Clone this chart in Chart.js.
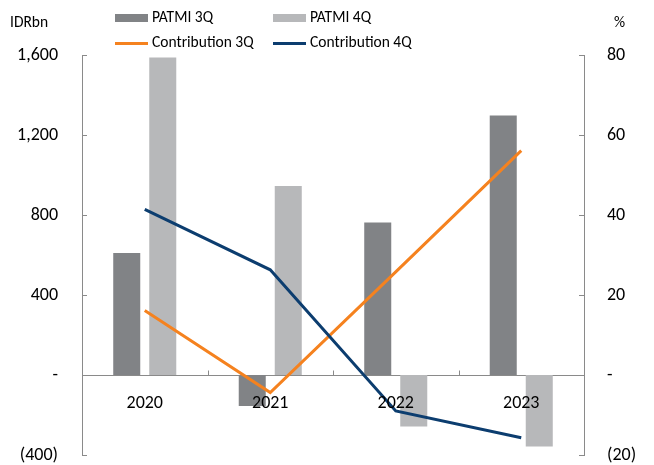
<!DOCTYPE html>
<html>
<head>
<meta charset="utf-8">
<script src="https://cdn.jsdelivr.net/npm/chart.js@4/dist/chart.umd.min.js"></script>
<style>
  html, body { margin: 0; padding: 0; background: #fff; }
  #wrap { position: relative; width: 654px; height: 465px; font-family: Carlito, Lato, sans-serif; color: #000; }
  #wrap canvas { position: absolute; left: 0; top: 0; }
  .lbl { position: absolute; font-size: 15.5px; line-height: 1; white-space: nowrap; }
  .key { position: absolute; }
</style>
</head>
<body>
<div id="wrap">
  <canvas id="c" width="654" height="465"></canvas>
  <div id="legend"></div>
  <span class="lbl" style="left:10px; top:14px;">IDRbn</span>
  <span class="lbl" style="left:614px; top:14px;">%</span>
</div>
<script>
// Values
const categories = ["2020", "2021", "2022", "2023"];
const patmi3Q = [610, -155, 763, 1297];      // IDRbn
const patmi4Q = [1588, 945, -258, -358];     // IDRbn
const contrib3Q = [16.1, -4.4, 25.8, 56.1];  // %
const contrib4Q = [41.4, 26.3, -9.0, -15.7]; // %
const leftTicks = [-400, 0, 400, 800, 1200, 1600];
const rightTicks = [-20, 0, 20, 40, 60, 80];

const DARK_GREY = "#818386";
const LIGHT_GREY = "#b7b8ba";
const ORANGE = "#f5821f";
const NAVY = "#0c3d6f";
const AXIS = "#8a8a8a";
const FONT = "Carlito, Lato, sans-serif";

// Excel-style numbers: "-" for zero, brackets for negatives
function fmt(v) {
    if (v === 0) return "-";
    const s = Math.abs(v).toLocaleString("en-US");
    return v < 0 ? "(" + s + ")" : s;
}

// Small tick marks pointing into the plot, like the original
const innerTicks = {
    id: "innerTicks",
    afterDatasetsDraw(chart) {
        const { ctx, chartArea, scales } = chart;
        ctx.save();
        ctx.strokeStyle = AXIS;
        ctx.lineWidth = 1;
        ctx.beginPath();
        scales.y.ticks.forEach((t) => {
            const py = Math.round(scales.y.getPixelForValue(t.value)) + 0.5;
            ctx.moveTo(chartArea.left, py);
            ctx.lineTo(chartArea.left + 5, py);
        });
        scales.y1.ticks.forEach((t) => {
            const py = Math.round(scales.y1.getPixelForValue(t.value)) + 0.5;
            ctx.moveTo(chartArea.right, py);
            ctx.lineTo(chartArea.right - 5, py);
        });
        const zero = Math.round(scales.y.getPixelForValue(0)) + 0.5;
        for (let i = 1; i < categories.length; i++) {
            const px = Math.round((scales.x.getPixelForValue(i - 1) + scales.x.getPixelForValue(i)) / 2) + 0.5;
            ctx.moveTo(px, zero);
            ctx.lineTo(px, zero - 5);
        }
        ctx.stroke();
        ctx.restore();
    },
};

const barSets = [
    { type: "bar", label: "PATMI 3Q", data: patmi3Q, yAxisID: "y", backgroundColor: DARK_GREY, borderWidth: 0, barPercentage: 0.75, categoryPercentage: 0.574, order: 2 },
    { type: "bar", label: "PATMI 4Q", data: patmi4Q, yAxisID: "y", backgroundColor: LIGHT_GREY, borderWidth: 0, barPercentage: 0.75, categoryPercentage: 0.574, order: 3 },
];
const lineSets = [
    { type: "line", label: "Contribution 3Q", data: contrib3Q, yAxisID: "y1", borderColor: ORANGE, borderWidth: 3, pointRadius: 0, tension: 0, order: 1 },
    { type: "line", label: "Contribution 4Q", data: contrib4Q, yAxisID: "y1", borderColor: NAVY, borderWidth: 3, pointRadius: 0, tension: 0, order: 0 },
];

// HTML legend laid out in two aligned columns
const legendItems = [
    { text: "PATMI 3Q", color: DARK_GREY, kind: "box" },
    { text: "PATMI 4Q", color: LIGHT_GREY, kind: "box" },
    { text: "Contribution 3Q", color: ORANGE, kind: "line" },
    { text: "Contribution 4Q", color: NAVY, kind: "line" },
];
const legend = document.getElementById("legend");
legendItems.forEach((it, i) => {
    const col = i % 2, row = Math.floor(i / 2);
    const kx = col === 0 ? 115 : 273;
    const cy = row === 0 ? 18 : 43;
    const key = document.createElement("div");
    key.className = "key";
    key.style.left = kx + "px";
    key.style.width = "33px";
    key.style.background = it.color;
    if (it.kind === "box") { key.style.top = (cy - 4) + "px"; key.style.height = "8px"; }
    else { key.style.top = (cy - 1.5) + "px"; key.style.height = "3px"; }
    legend.appendChild(key);
    const t = document.createElement("span");
    t.className = "lbl";
    t.textContent = it.text;
    t.style.left = (kx + 37) + "px";
    t.style.top = (cy - 9) + "px";
    legend.appendChild(t);
});

// Fixed axis widths; drop the label padding so the plot keeps its full height
const fitY = (w) => (s) => { s.width = w; s.paddingTop = 0; s.paddingBottom = 0; };

new Chart(document.getElementById("c"), {
    data: { labels: categories, datasets: [...barSets, ...lineSets] },
    plugins: [innerTicks],
    options: {
        responsive: false,
        animation: false,
        layout: { padding: { top: 55, bottom: 10, left: 0, right: 0 } },
        plugins: { legend: { display: false }, tooltip: { enabled: false } },
        scales: {
            x: {
                position: { y: 0 },
                offset: true,
                grid: { display: false, drawTicks: false },
                border: { display: true, color: AXIS, width: 1 },
                ticks: { z: 1, color: "#000", padding: 18, font: { family: FONT, size: 18 } },
            },
            y: {
                position: "left",
                min: -400,
                max: 1600,
                afterBuildTicks: (s) => { s.ticks = leftTicks.map((v) => ({ value: v })); },
                afterFit: fitY(82),
                grid: { display: false, drawTicks: false },
                border: { display: true, color: AXIS, width: 1 },
                ticks: { color: "#000", padding: 24, callback: (v) => fmt(v), font: { family: FONT, size: 18 } },
            },
            y1: {
                position: "right",
                min: -20,
                max: 80,
                afterBuildTicks: (s) => { s.ticks = rightTicks.map((v) => ({ value: v })); },
                afterFit: fitY(70),
                grid: { display: false, drawTicks: false },
                border: { display: true, color: AXIS, width: 1 },
                ticks: { color: "#000", padding: 23, callback: (v) => fmt(v), font: { family: FONT, size: 18 } },
            },
        },
    },
});
</script>
</body>
</html>
